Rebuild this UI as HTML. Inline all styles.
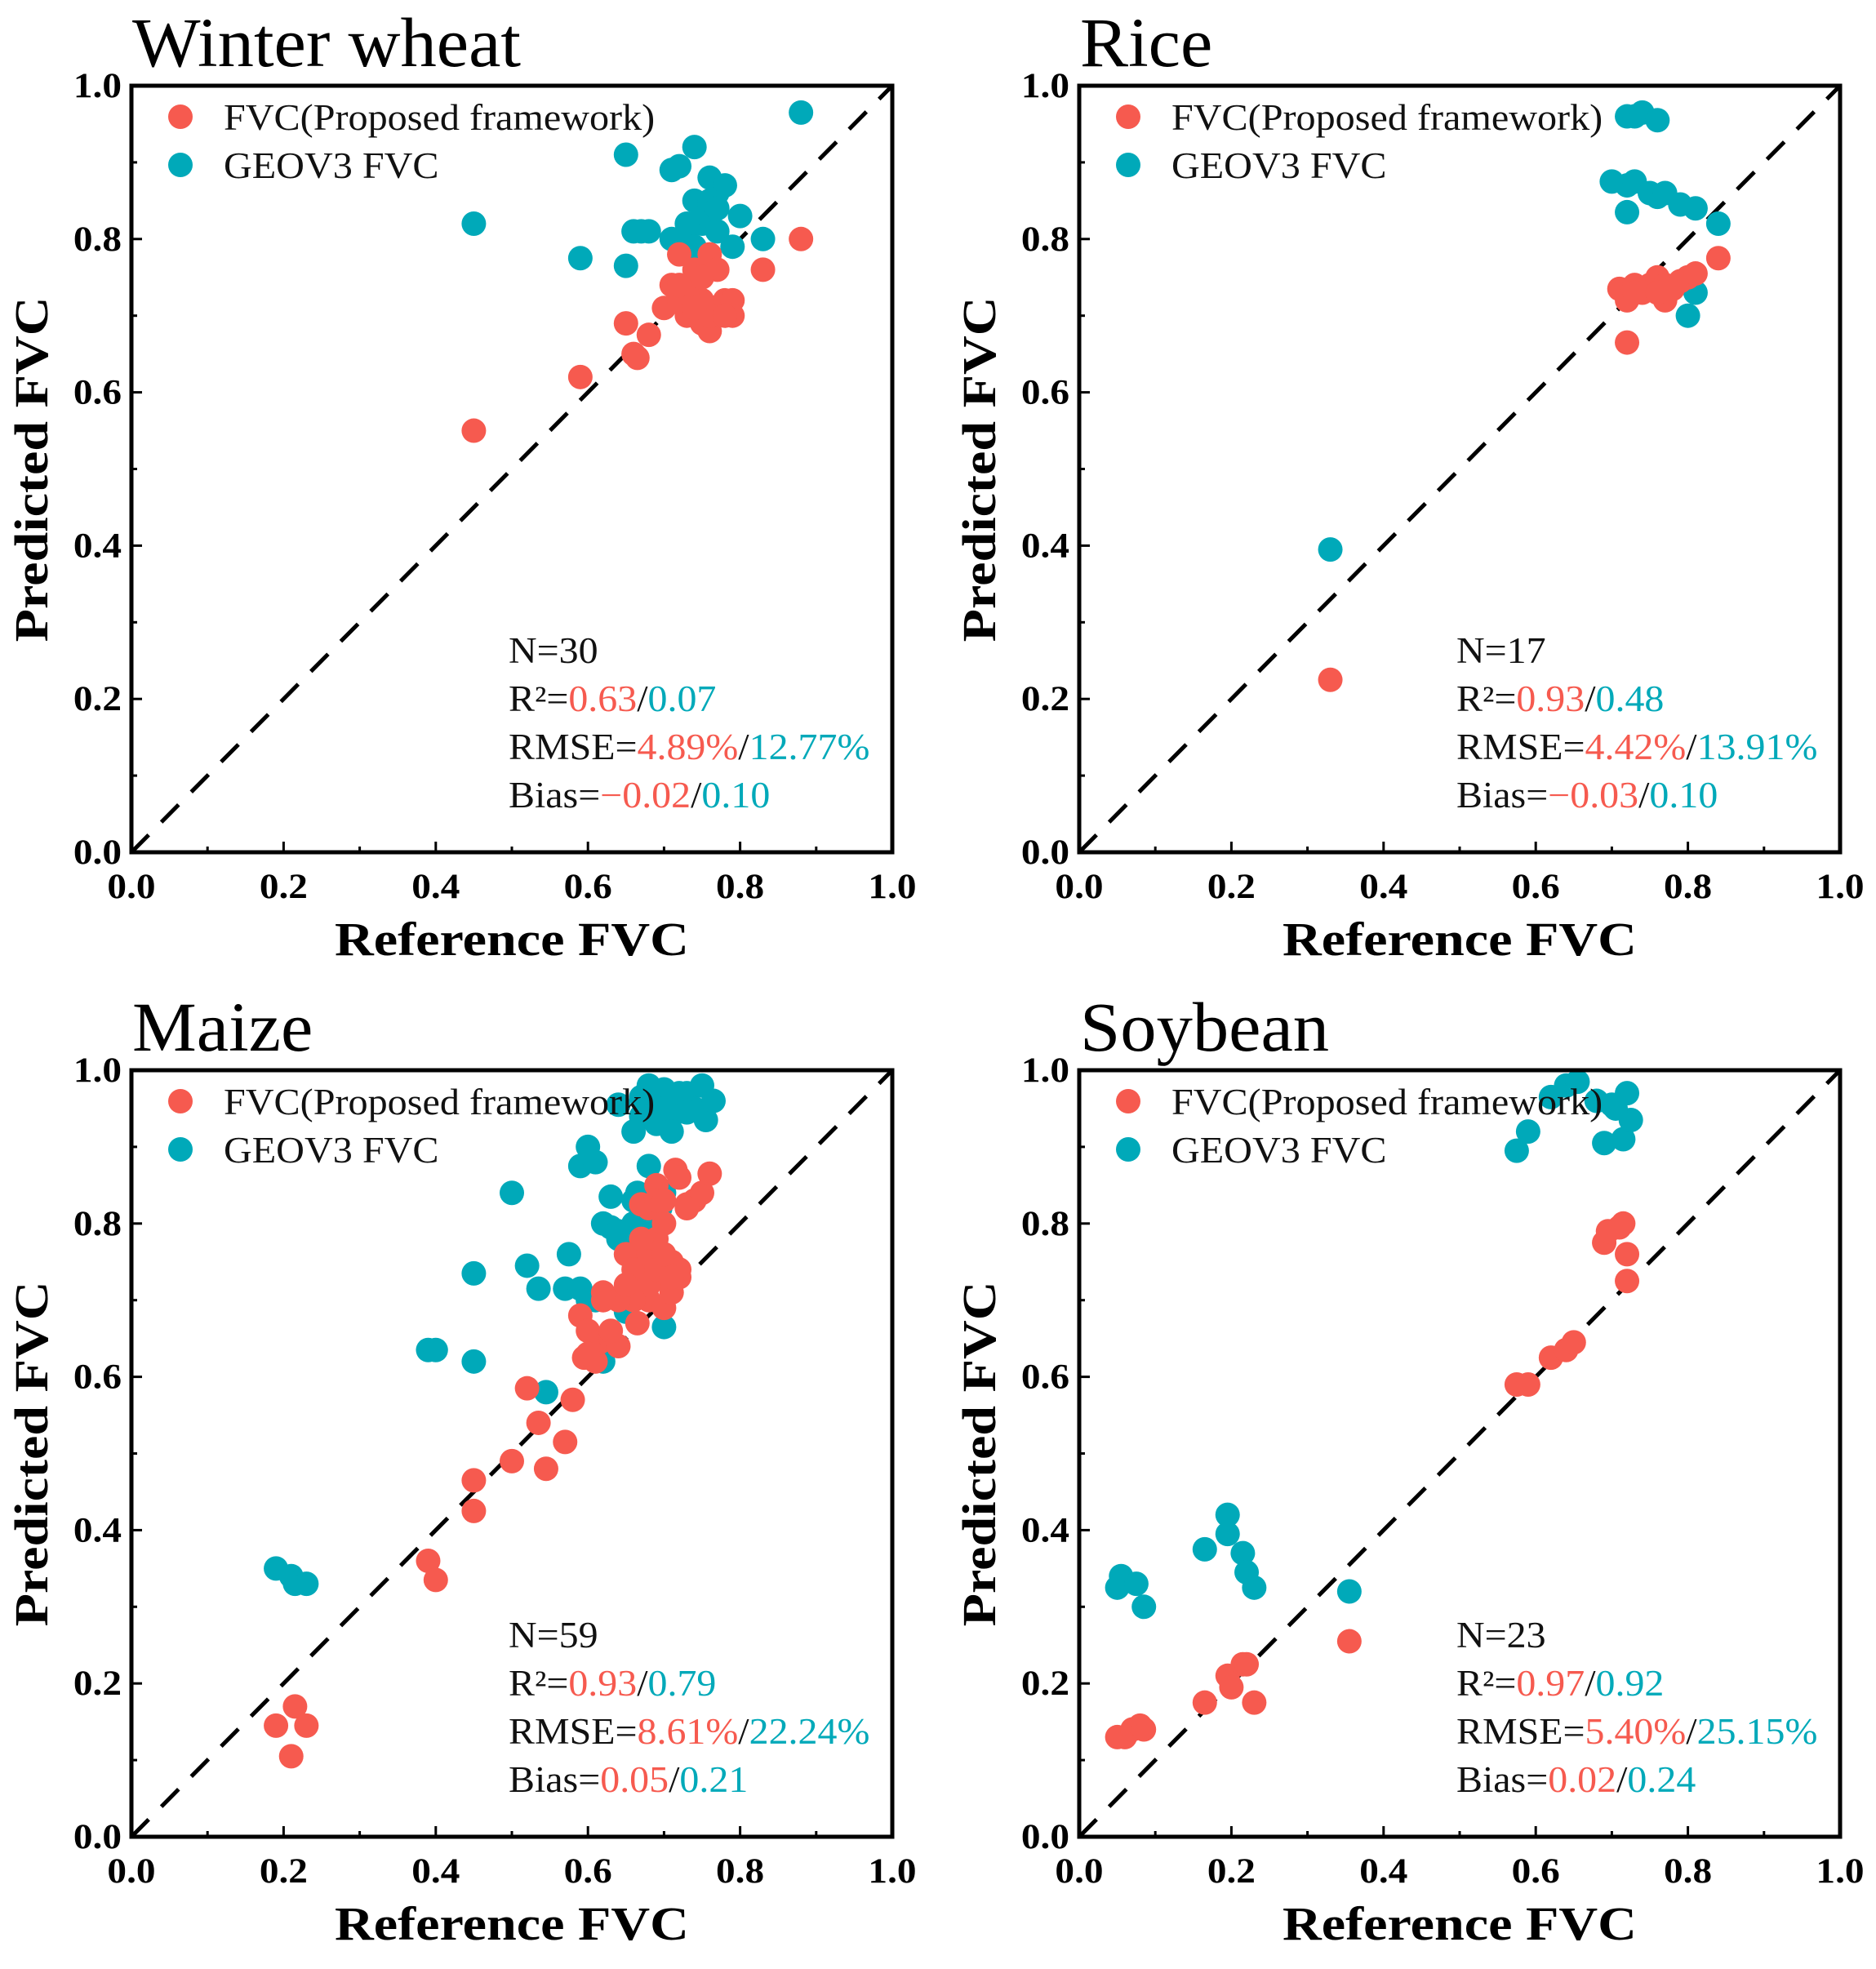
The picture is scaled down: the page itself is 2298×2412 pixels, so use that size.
<!DOCTYPE html>
<html><head><meta charset="utf-8">
<style>
html,body{margin:0;padding:0;background:#fff;}
svg{display:block;font-family:"Liberation Serif","Times New Roman",serif;}
</style></head>
<body>
<svg id="chart" width="2298" height="2412" viewBox="0 0 2298 2412" xmlns="http://www.w3.org/2000/svg"></svg>
<script>
// ---- data ----
const panelTitles = ["Winter wheat", "Rice", "Maize", "Soybean"];
const tickLabels = ["0.0", "0.2", "0.4", "0.6", "0.8", "1.0"];
const tickValues = [0, 0.2, 0.4, 0.6, 0.8, 1.0];
const seriesNames = ["FVC(Proposed framework)", "GEOV3 FVC"];

const wheatRedX = [0.45,0.59,0.65,0.66,0.665,0.68,0.70,0.71,0.72,0.72,0.73,0.74,0.74,0.75,0.75,0.76,0.76,0.77,0.77,0.78,0.79,0.79,0.83,0.88,0.73,0.75,0.76,0.74,0.72,0.78];
const wheatRedY = [0.55,0.62,0.69,0.65,0.645,0.675,0.71,0.74,0.72,0.78,0.70,0.76,0.70,0.72,0.69,0.78,0.68,0.70,0.76,0.72,0.72,0.70,0.76,0.80,0.73,0.75,0.70,0.71,0.74,0.70];
const wheatTealX = [0.45,0.59,0.65,0.65,0.66,0.67,0.68,0.71,0.72,0.71,0.73,0.74,0.74,0.74,0.74,0.75,0.75,0.76,0.76,0.77,0.77,0.78,0.79,0.80,0.83,0.88,0.76,0.73,0.77,0.72];
const wheatTealY = [0.82,0.775,0.91,0.765,0.81,0.81,0.81,0.80,0.895,0.89,0.80,0.92,0.85,0.75,0.79,0.83,0.82,0.84,0.88,0.86,0.81,0.87,0.79,0.83,0.80,0.965,0.85,0.82,0.84,0.80];

const riceRedX = [0.33,0.71,0.72,0.72,0.73,0.74,0.75,0.76,0.77,0.77,0.79,0.80,0.81,0.84,0.73,0.76,0.78];
const riceRedY = [0.225,0.735,0.72,0.665,0.74,0.73,0.74,0.75,0.72,0.74,0.745,0.75,0.755,0.775,0.73,0.73,0.735];
const riceTealX = [0.33,0.70,0.72,0.72,0.73,0.72,0.73,0.74,0.76,0.75,0.76,0.77,0.79,0.81,0.84,0.80,0.81];
const riceTealY = [0.395,0.875,0.87,0.835,0.875,0.96,0.96,0.965,0.955,0.86,0.855,0.86,0.845,0.84,0.82,0.70,0.73];

const maizeRedX = [0.19,0.21,0.215,0.23,0.39,0.40,0.45,0.45,0.50,0.52,0.535,0.545,0.57,0.58,0.59,0.595,0.60,0.61,0.615,0.62,0.63,0.64,0.65,0.66,0.665,0.67,0.67,0.68,0.68,0.69,0.69,0.70,0.70,0.70,0.71,0.71,0.715,0.72,0.72,0.73,0.74,0.75,0.76,0.68,0.69,0.70,0.66,0.67,0.72,0.60,0.63,0.64,0.68,0.69,0.71,0.65,0.62,0.73,0.70];
const maizeRedY = [0.145,0.105,0.17,0.145,0.36,0.335,0.465,0.425,0.49,0.585,0.54,0.48,0.515,0.57,0.68,0.625,0.66,0.62,0.645,0.71,0.65,0.64,0.76,0.74,0.67,0.825,0.74,0.76,0.70,0.85,0.78,0.80,0.73,0.69,0.75,0.71,0.87,0.73,0.86,0.825,0.83,0.84,0.865,0.72,0.74,0.76,0.70,0.78,0.74,0.63,0.66,0.70,0.82,0.83,0.73,0.72,0.70,0.82,0.83];
const maizeTealX = [0.19,0.21,0.215,0.23,0.39,0.40,0.45,0.45,0.50,0.52,0.535,0.545,0.57,0.575,0.59,0.59,0.60,0.61,0.61,0.62,0.63,0.63,0.64,0.64,0.65,0.65,0.66,0.665,0.67,0.67,0.68,0.68,0.68,0.69,0.69,0.70,0.70,0.70,0.71,0.71,0.72,0.72,0.73,0.74,0.75,0.755,0.765,0.67,0.69,0.70,0.66,0.71,0.62,0.68,0.695,0.73,0.60,0.64,0.66];
const maizeTealY = [0.35,0.34,0.33,0.33,0.635,0.635,0.735,0.62,0.84,0.745,0.715,0.58,0.715,0.76,0.715,0.875,0.90,0.88,0.70,0.62,0.835,0.795,0.78,0.955,0.685,0.78,0.92,0.84,0.965,0.82,0.98,0.875,0.80,0.96,0.81,0.975,0.84,0.665,0.95,0.94,0.97,0.96,0.97,0.95,0.98,0.935,0.96,0.94,0.93,0.95,0.80,0.92,0.80,0.83,0.82,0.945,0.70,0.79,0.83];

const soyRedX = [0.05,0.06,0.07,0.08,0.085,0.165,0.195,0.20,0.215,0.22,0.23,0.355,0.575,0.59,0.62,0.64,0.65,0.69,0.695,0.71,0.715,0.72,0.72];
const soyRedY = [0.13,0.13,0.14,0.145,0.14,0.175,0.21,0.195,0.225,0.225,0.175,0.255,0.59,0.59,0.625,0.635,0.645,0.775,0.79,0.795,0.80,0.76,0.725];
const soyTealX = [0.05,0.055,0.075,0.085,0.165,0.195,0.195,0.215,0.22,0.23,0.355,0.575,0.59,0.62,0.64,0.655,0.69,0.70,0.715,0.72,0.725,0.705,0.68];
const soyTealY = [0.325,0.34,0.33,0.30,0.375,0.42,0.395,0.37,0.345,0.325,0.32,0.895,0.92,0.965,0.98,0.985,0.905,0.955,0.91,0.97,0.935,0.95,0.96];

const statN = ["30","17","59","23"];
const statR2a = ["0.63","0.93","0.93","0.97"];
const statR2b = ["0.07","0.48","0.79","0.92"];
const statRmseA = ["4.89%","4.42%","8.61%","5.40%"];
const statRmseB = ["12.77%","13.91%","22.24%","25.15%"];
const statBiasA = ["\u22120.02","\u22120.03","0.05","0.02"];
const statBiasB = ["0.10","0.10","0.21","0.24"];

const panelSlugs = ["winter-wheat","rice","maize","soybean"];
const redXs = [wheatRedX, riceRedX, maizeRedX, soyRedX];
const redYs = [wheatRedY, riceRedY, maizeRedY, soyRedY];
const tealXs = [wheatTealX, riceTealX, maizeTealX, soyTealX];
const tealYs = [wheatTealY, riceTealY, maizeTealY, soyTealY];

// ---- drawing ----
const NS = "http://www.w3.org/2000/svg";
const svg = document.getElementById("chart");
const RED = "#f65a4f", TEAL = "#00a9b9";
function mk(tag, attrs, parent) {
  const e = document.createElementNS(NS, tag);
  for (const k in attrs) e.setAttribute(k, attrs[k]);
  (parent || svg).appendChild(e);
  return e;
}
function stretch(el, f) {
  const w = el.getComputedTextLength();
  if (w > 0) {
    el.setAttribute("textLength", (w * f).toFixed(1));
    el.setAttribute("lengthAdjust", "spacingAndGlyphs");
  }
}
const offsets = [[0,0],[1161,0],[0,1206],[1161,1206]];
const PL = 161, PR = 1093, PT = 105, PB = 1044;

for (let p = 0; p < 4; p++) {
  const ox = offsets[p][0], oy = offsets[p][1];
  const g = mk("g", {});
  
  
  const sx = v => ox + PL + v * (PR - PL);
  const sy = v => oy + PB - v * (PB - PT);

  const t = mk("text", {x: ox + 162, y: oy + 81, "font-size": 86, fill: "#000"}, g);
  t.textContent = panelTitles[p];
  
  
  stretch(t, 1.03);

  // ticks
  for (let i = 0; i <= 10; i++) {
    const v = i / 10, len = (i % 2 === 0) ? 13 : 7;
    const tx = mk("line", {x1: sx(v), x2: sx(v), y1: oy + PB, y2: oy + PB - len, stroke: "#000", "stroke-width": 3}, g);
    
    
    const ty = mk("line", {x1: ox + PL, x2: ox + PL + len, y1: sy(v), y2: sy(v), stroke: "#000", "stroke-width": 3}, g);
    
    
  }
  for (let i = 0; i < tickValues.length; i++) {
    const xl = mk("text", {x: sx(tickValues[i]), y: oy + PB + 56, "font-size": 43, "font-weight": "bold", "text-anchor": "middle"}, g);
    xl.textContent = tickLabels[i];
    
    
    stretch(xl, 1.1);
    const yl = mk("text", {x: ox + PL - 12, y: sy(tickValues[i]) + 14, "font-size": 43, "font-weight": "bold", "text-anchor": "end"}, g);
    yl.textContent = tickLabels[i];
    
    
    stretch(yl, 1.1);
  }

  // diagonal 1:1
  const d = mk("line", {x1: sx(0), y1: sy(0), x2: sx(1), y2: sy(1), stroke: "#000", "stroke-width": 5, "stroke-dasharray": "30 22"}, g);
  
  

  // points: teal first, red on top
  const tx_ = tealXs[p], ty_ = tealYs[p];
  for (let i = 0; i < tx_.length; i++) {
    const c = mk("circle", {cx: sx(tx_[i]), cy: sy(ty_[i]), r: 15, fill: TEAL}, g);
    
    
  }
  const rx_ = redXs[p], ry_ = redYs[p];
  for (let i = 0; i < rx_.length; i++) {
    const c = mk("circle", {cx: sx(rx_[i]), cy: sy(ry_[i]), r: 15, fill: RED}, g);
    
    
  }

  // frame
  const fr = mk("rect", {x: ox + PL, y: oy + PT, width: PR - PL, height: PB - PT, fill: "none", stroke: "#000", "stroke-width": 5}, g);
  
  

  // legend
  const cols = [RED, TEAL];
  for (let i = 0; i < 2; i++) {
    const lg = mk("g", {}, g);
    
    
    mk("circle", {cx: ox + 221, cy: oy + 143 + i * 59, r: 15, fill: cols[i]}, lg);
    const lt = mk("text", {x: ox + 274, y: oy + 159 + i * 59, "font-size": 45, fill: "#111"}, lg);
    lt.textContent = seriesNames[i];
    stretch(lt, 1.07);
  }

  // stats
  const rows = [
    ["N=" + statN[p]],
    ["R\u00B2=", statR2a[p], statR2b[p]],
    ["RMSE=", statRmseA[p], statRmseB[p]],
    ["Bias=", statBiasA[p], statBiasB[p]]
  ];
  const names = ["stat-n","stat-r2","stat-rmse","stat-bias"];
  for (let r = 0; r < 4; r++) {
    const st = mk("text", {x: ox + 623, y: oy + 812 + r * 59, "font-size": 45, fill: "#111"}, g);
    
    
    const a = mk("tspan", {}, st); a.textContent = rows[r][0];
    if (rows[r].length > 1) {
      const b = mk("tspan", {fill: RED}, st); b.textContent = rows[r][1];
      const s = mk("tspan", {}, st); s.textContent = "/";
      const c = mk("tspan", {fill: TEAL}, st); c.textContent = rows[r][2];
    }
    stretch(st, 1.065);
  }

  // axis titles
  const xt = mk("text", {x: ox + 627, y: oy + 1170, "font-size": 58, "font-weight": "bold", "text-anchor": "middle"}, g);
  xt.textContent = "Reference FVC";
  
  
  stretch(xt, 1.14);
  const ytt = mk("text", {x: 0, y: 0, "font-size": 58, "font-weight": "bold", "text-anchor": "middle", transform: "translate(" + (ox + 58) + "," + (oy + 575) + ") rotate(-90)"}, g);
  ytt.textContent = "Predicted FVC";
  
  
  stretch(ytt, 1.14);
}
</script>
</body></html>
